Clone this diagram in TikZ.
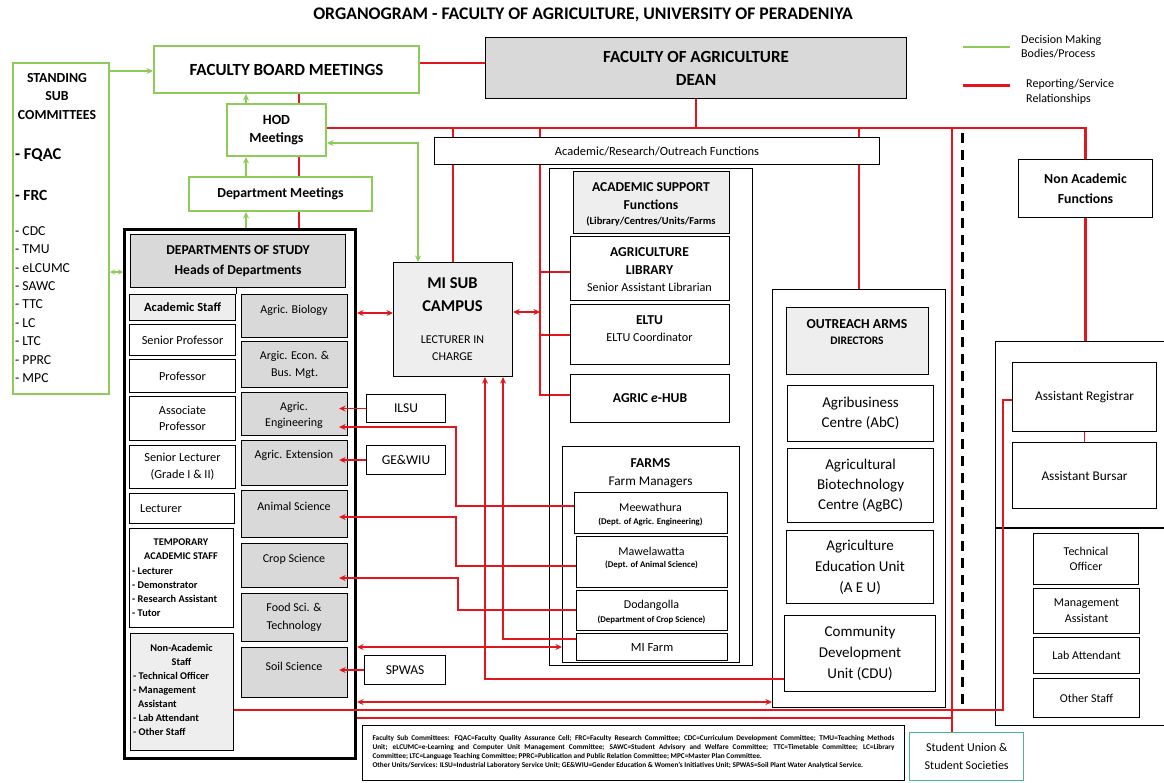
\documentclass[tikz,border=0pt]{standalone}
\usepackage{fontspec}
\setmainfont{Carlito}
\usetikzlibrary{arrows.meta,calc}
\definecolor{gG}{HTML}{8FCB5A}
\definecolor{rR}{HTML}{E3161E}
\definecolor{grayA}{HTML}{D9D9D9}
\definecolor{grayB}{HTML}{EEEEEE}
\definecolor{tealA}{HTML}{4CB58C}
\pgfdeclarelayer{bg}
\pgfsetlayers{bg,main}
\tikzset{
 fnt/.style 2 args={font=\fontsize{#1}{#2}\selectfont},
 bfnt/.style 2 args={font=\bfseries\fontsize{#1}{#2}\selectfont},
 txt/.style={inner sep=0pt, align=center},
 box/.style={draw=black, line width=1.1pt, fill=white, inner sep=0pt, align=center},
 cbox/.style={draw=black, line width=1.1pt, inner sep=0pt},
 gbox/.style={draw=gG, line width=2pt, fill=white, inner sep=0pt, align=center},
 dbox/.style={box, fill=grayA},
 lbox/.style={box, fill=grayB},
 rl/.style={draw=rR, line width=2.4pt},
 rt/.style={draw=rR, line width=1.5pt},
 rth/.style={draw=rR, line width=1.1pt},
 gl/.style={draw=gG, line width=2pt},
 >={Stealth[length=6.5pt,width=6pt]}
}
\newcommand{\bx}[7]{\node[#6, anchor=north west, minimum width={#4-#2}, minimum height={#5-#3}] (#1) at (#2,#3) {#7};}
\begin{document}
\begin{tikzpicture}[x=1pt,y=-1pt]
\useasboundingbox (0,0) rectangle (1164,782);

% title
\node[txt, bfnt={17.7}{20}] (title) at (583,15) {ORGANOGRAM - FACULTY OF AGRICULTURE, UNIVERSITY OF PERADENIYA};

% legend
\coordinate (lg1a) at (963,47); \coordinate (lg1b) at (1010,47);
\coordinate (lg2a) at (963,85); \coordinate (lg2b) at (1010,85);
\node[txt, fnt={12}{14}, anchor=west, align=left] (lgt1) at (1021,47) {Decision Making\\Bodies/Process};
\node[txt, fnt={12}{15}, anchor=west, align=left] (lgt2) at (1026,92) {Reporting/Service\\Relationships};

% standing committees
\bx{stand}{12}{62}{108}{393}{gbox}{}
\node[txt, bfnt={13.8}{18.5}] (st1) at (57,96.5) {STANDING\\SUB\\COMMITTEES};
\node[txt, bfnt={16.5}{19}, anchor=west] (st2) at (15,155) {- FQAC};
\node[txt, bfnt={15.5}{18}, anchor=west] (st3) at (15,195) {- FRC};
\node[txt, fnt={13.7}{18.4}, anchor=west, align=left] (st4) at (15,304.5) {- CDC\\- TMU\\- eLCUMC\\- SAWC\\- TTC\\- LC\\- LTC\\- PPRC\\- MPC};

% top boxes
\bx{fb}{153}{45}{418}{92}{gbox, bfnt={17}{19}}{FACULTY BOARD MEETINGS}
\bx{dean}{485}{37}{906}{98}{box, fill=grayA, bfnt={17}{23}}{FACULTY OF AGRICULTURE\\DEAN}
\bx{hod}{226}{103}{325}{155}{gbox, bfnt={14}{18}}{HOD\\Meetings}
\bx{dm}{188}{176}{371}{210}{gbox, bfnt={13.8}{16}}{Department Meetings}

% departments of study
\bx{dos}{123}{228}{354}{757}{draw=black, line width=3pt, inner sep=0pt}{}
\bx{doh}{130}{234}{345}{287}{dbox, bfnt={13.6}{19.5}}{DEPARTMENTS OF STUDY\\Heads of Departments}
\bx{acs}{129}{294}{235}{320}{lbox, bfnt={12.5}{15}}{Academic Staff}
\bx{sp}{129}{324}{235}{355}{box, fnt={12.3}{15}}{Senior Professor}
\bx{prof}{129}{359}{235}{392}{box, fnt={12.3}{15}}{Professor}
\bx{ap}{129}{396}{235}{440}{box, fnt={12.3}{16}}{Associate\\Professor}
\bx{sl}{129}{445}{235}{488}{box, fnt={12.3}{17}}{Senior Lecturer\\(Grade I \& II)}
\bx{lec}{129}{493}{234}{523}{box}{}
\node[txt, fnt={12.3}{15}, anchor=west] (lec-t) at (140,509) {Lecturer};
\bx{tas}{129}{528}{233}{627}{box}{}
\node[txt, bfnt={10.3}{14}] (tas-t1) at (181,549) {TEMPORARY\\ACADEMIC STAFF};
\node[txt, bfnt={10.3}{14}, anchor=west, align=left] (tas-t2) at (132,592) {- Lecturer\\- Demonstrator\\- Research Assistant\\- Tutor};
\bx{nas}{130}{633}{233}{750}{lbox}{}
\node[txt, bfnt={10.3}{14}] (nas-t1) at (181.5,655) {Non-Academic\\Staff};
\node[txt, bfnt={10.3}{14}, anchor=west, align=left] (nas-t2) at (133,704) {- Technical Officer\\- Management\\\hspace*{5pt}Assistant\\- Lab Attendant\\- Other Staff};

\bx{ab}{241}{294}{347}{337}{dbox}{}
\node[txt, fnt={12}{15}] (ab-t) at (294,310) {Agric. Biology};
\bx{aeb}{241}{341}{347}{387}{dbox, fnt={12}{17}}{Argic. Econ. \&\\Bus. Mgt.}
\bx{aen}{241}{392}{347}{435}{dbox}{}
\node[txt, fnt={12}{16}] (aen-t) at (294,415) {Agric.\\Engineering};
\bx{aex}{241}{440}{347}{485}{dbox}{}
\node[txt, fnt={12}{15}] (aex-t) at (294,455) {Agric. Extension};
\bx{ans}{241}{490}{347}{537}{dbox}{}
\node[txt, fnt={12}{15}] (ans-t) at (294,506) {Animal Science};
\bx{cs}{241}{543}{347}{587}{dbox}{}
\node[txt, fnt={12}{15}] (cs-t) at (294,559) {Crop Science};
\bx{fst}{241}{593}{347}{641}{dbox}{}
\node[txt, fnt={12}{18}] (fst-t) at (294,617) {Food Sci. \&\\Technology};
\bx{ss}{241}{647}{347}{697}{dbox}{}
\node[txt, fnt={12}{15}] (ss-t) at (294,666) {Soil Science};

% side units
\bx{ilsu}{366}{394}{445}{422}{box, fnt={13.5}{15}}{ILSU}
\bx{gew}{366}{445}{445}{474}{box, fnt={13.5}{15}}{GE\&WIU}
\bx{spw}{364}{655}{445}{684}{box, fnt={13.5}{15}}{SPWAS}

% MI sub campus
\bx{mi}{393}{262}{512}{376}{lbox}{}
\node[txt, bfnt={16.5}{23}] (mi-t1) at (452.5,294.5) {MI SUB\\CAMPUS};
\node[txt, fnt={12}{17}] (mi-t2) at (452.5,348.5) {LECTURER IN\\CHARGE};

% academic / research
\bx{aro}{434}{137}{879}{164}{box, fnt={12.5}{15}}{Academic/Research/Outreach Functions}
\bx{aso}{549}{168}{752}{665}{cbox}{}
\bx{ash}{573}{171}{729}{233}{lbox}{}
\node[txt, bfnt={13.6}{18}] (ash-t1) at (651,196) {ACADEMIC SUPPORT\\Functions};
\node[txt, bfnt={10.5}{11}] (ash-t2) at (651,221) {(Library/Centres/Units/Farms};
\bx{lib}{570}{236}{729}{300}{box}{}
\node[txt, bfnt={13.6}{18}] (lib-t1) at (649.5,261) {AGRICULTURE\\LIBRARY};
\node[txt, fnt={12.2}{15}] (lib-t2) at (649.5,287) {Senior Assistant Librarian};
\bx{eltu}{570}{304}{729}{364}{box}{}
\node[txt, bfnt={13.6}{15}] (eltu-t1) at (649.5,320) {ELTU};
\node[txt, fnt={12.2}{15}] (eltu-t2) at (649.5,337) {ELTU Coordinator};
\bx{ehub}{570}{374}{729}{422}{box, bfnt={13.6}{15}}{AGRIC \textit{e}-HUB}

% farms
\bx{farms}{562}{446}{739}{662}{cbox}{}
\node[txt, bfnt={13.6}{15}] (farms-t1) at (650.5,463) {FARMS};
\node[txt, fnt={13.3}{15}] (farms-t2) at (650.5,482) {Farm Managers};
\bx{mee}{574}{492}{727}{533}{box}{}
\node[txt, fnt={12}{15}] (mee-t1) at (650.5,507) {Meewathura};
\node[txt, bfnt={8.8}{10}] (mee-t2) at (650.5,522) {(Dept. of Agric. Engineering)};
\bx{maw}{576}{536}{727}{587}{box}{}
\node[txt, fnt={12}{15}] (maw-t1) at (651.5,551) {Mawelawatta};
\node[txt, bfnt={8.8}{10}] (maw-t2) at (651.5,565) {(Dept. of Animal Science)};
\bx{dod}{576}{590}{727}{630}{box}{}
\node[txt, fnt={12}{15}] (dod-t1) at (651.5,605) {Dodangolla};
\node[txt, bfnt={8.8}{10}] (dod-t2) at (651.5,620) {(Department of Crop Science)};
\bx{mif}{576}{633}{727}{660}{box, fnt={12.5}{15}}{MI Farm}

% outreach
\bx{oro}{772}{289}{945}{707}{cbox}{}
\bx{orh}{786}{307}{928}{374}{lbox}{}
\node[txt, bfnt={13.7}{15}] (orh-t1) at (857,324) {OUTREACH ARMS};
\node[txt, bfnt={11.5}{13}] (orh-t2) at (857,341) {DIRECTORS};
\bx{abc}{787}{385}{933}{441}{box, fnt={15}{20}}{Agribusiness\\Centre (AbC)}
\bx{agbc}{787}{448}{933}{522}{box, fnt={15}{20}}{Agricultural\\Biotechnology\\Centre (AgBC)}
\bx{aeu}{786}{530}{933}{603}{box, fnt={15}{21}}{Agriculture\\Education Unit\\(A E U)}
\bx{cdu}{784}{615}{935}{691}{box, fnt={15}{21}}{Community\\Development\\Unit (CDU)}

% non academic
\bx{naf}{1018}{159}{1152}{217}{box, bfnt={13.8}{20}}{Non Academic\\Functions}
\bx{rob}{995}{341}{1172}{725}{cbox}{}
\draw[line width=1.1pt] (rob.west |- 0,528) -- (rob.east |- 0,528);
\bx{reg}{1012}{362}{1156}{431}{box, fnt={13.3}{15}}{Assistant Registrar}
\bx{bur}{1012}{442}{1156}{508}{box, fnt={13.3}{15}}{Assistant Bursar}
\bx{to}{1033}{533}{1138}{584}{box, fnt={12}{15.5}}{Technical\\Officer}
\bx{ma}{1033}{588}{1139}{633}{box, fnt={12}{16}}{Management\\Assistant}
\bx{la}{1033}{637}{1139}{673}{box, fnt={12}{15}}{Lab Attendant}
\bx{os}{1033}{678}{1139}{717}{box, fnt={12}{15}}{Other Staff}

% student union and footnote
\bx{su}{909}{732}{1023}{780}{draw=tealA, line width=1.4pt, fill=white, inner sep=0pt, align=center, fnt={12}{18}}{Student Union \&\\Student Societies}
\bx{fn}{362}{725}{904}{780}{box}{}
\node[inner sep=0pt, bfnt={7.3}{9.3}, text width=522pt, align=justify] (fn-t) at (633.5,752) {\hyphenpenalty=10000 Faculty Sub Committees: FQAC=Faculty Quality Assurance Cell; FRC=Faculty Research Committee; CDC=Curriculum Development Committee; TMU=Teaching Methods\linebreak Unit; eLCUMC=e-Learning and Computer Unit Management Committee; SAWC=Student Advisory and Welfare Committee; TTC=Timetable Committee; LC=Library\linebreak Committee; LTC=Language Teaching Committee; PPRC=Publication and Public Relation Committee; MPC=Master Plan Committee.\\Other Units/Services: ILSU=Industrial Laboratory Service Unit; GE\&WIU=Gender Education \& Women's Initiatives Unit; SPWAS=Soil Plant Water Analytical Service.};

% junctions
\coordinate (bus540) at (540,128);
\coordinate (bus952) at (952,128);
\coordinate (dsh1) at (962,133);
\coordinate (dsh2) at (962,710);

\begin{pgfonlayer}{bg}
 % legend lines
 \draw[gl, line width=2.5pt] (lg1a) -- (lg1b);
 \draw[rl, line width=3pt] (lg2a) -- (lg2b);
 % green decision lines
 \draw[gl,->] (stand.east |- 0,71) -- (fb.west |- 0,71);
 \draw[gl,->] (hod.north -| 246,0) -- (fb.south -| 246,0);
 \draw[gl,->] (dm.north -| 246,0) -- (hod.south -| 246,0);
 \draw[gl,->] (dos.north -| 246,0) -- (dm.south -| 246,0);
 \draw[gl,<->,>={Stealth[length=5pt,width=5pt]}] (stand.east |- 0,272) -- (dos.west |- 0,272);
 \draw[gl,<->] (hod.east |- 0,143) -| (mi.north -| 418,0);
 % red reporting lines
 \draw[rl] (fb.east |- 0,63) -- (dean.west |- 0,63);
 \draw[rl] (fb.south -| 299,0) -- (hod.north -| 299,0);
 \draw[rl] (hod.south -| 299,0) -- (dm.north -| 299,0);
 \draw[rl] (dm.south -| 299,0) -- (dos.north -| 299,0);
 \draw[rl] (dean.south) -- (dean.south |- 0,128);
 \draw[rl] (hod.east |- 0,128) -- (naf.north |- 0,128) -- (naf.north);
 \draw[rl] (mi.north |- 0,128) -- (mi.north);
 \draw[rl] (bus540) -- (bus540 |- 0,395) -- (ehub.west |- 0,395);
 \draw[rl] (bus540 |- 0,272) -- (lib.west |- 0,272);
 \draw[rl] (bus540 |- 0,335) -- (eltu.west |- 0,335);
 \draw[rl] (oro.north |- 0,128) -- (oro.north);
 \draw[rth] (bus952) -- (su.north -| bus952);
 \draw[rl] (naf.south) -- (naf.south |- rob.north);
 \draw[rth] (reg.south) -- (bur.north);
\end{pgfonlayer}

% dashed divider
\draw[line width=3pt, dash pattern=on 10pt off 7pt] (dsh1) -- (dsh2);

% connectors drawn over boxes
\draw[line width=1.1pt] (doh.south -| acs.north east) -- (acs.north east);
\draw[rl,<->] (dos.east |- 0,313) -- (mi.west |- 0,313);
\draw[rl,<->] (mi.east |- 0,312) -- (bus540 |- 0,312);
\draw[rt,->] (ilsu.west) -- ($(aen.east |- ilsu.west)+(-9,0)$);
\draw[rt,->] (gew.west) -- ($(aex.east |- gew.west)+(-9,0)$);
\draw[rt,->] (spw.west) -- ($(ss.east |- spw.west)+(-9,0)$);
\draw[rt,->] (mee.west |- 0,506) -- (456,506) -- (456,427) -- ($(aen.east |- 0,427)+(-9,0)$);
\draw[rt,->] (maw.west |- 0,566) -- (456,566) -- (456,517) -- ($(ans.east |- 0,517)+(-9,0)$);
\draw[rt,->] (dod.west |- 0,610) -- (458,610) -- (458,578) -- ($(cs.east |- 0,578)+(-9,0)$);
\draw[rt,->] (mif.west |- 0,639) -- (503,639) -- (mi.south -| 503,0);
\draw[rt,->] (cdu.west |- 0,679) -- (485,679) -- (mi.south -| 485,0);
\draw[rt,<->] (dos.east |- 0,647) -- (farms.west |- 0,647);
\draw[rt,<->] (dos.east |- 0,702) -- (oro.west |- 0,702);
\draw[rt] (nas.east |- 0,710) -- (1003,710) -- (1003,400) -- (reg.west |- 0,400);
\draw[rt] (dos.east |- 0,718) -- (bus952 |- 0,718);
\end{tikzpicture}
\end{document}
